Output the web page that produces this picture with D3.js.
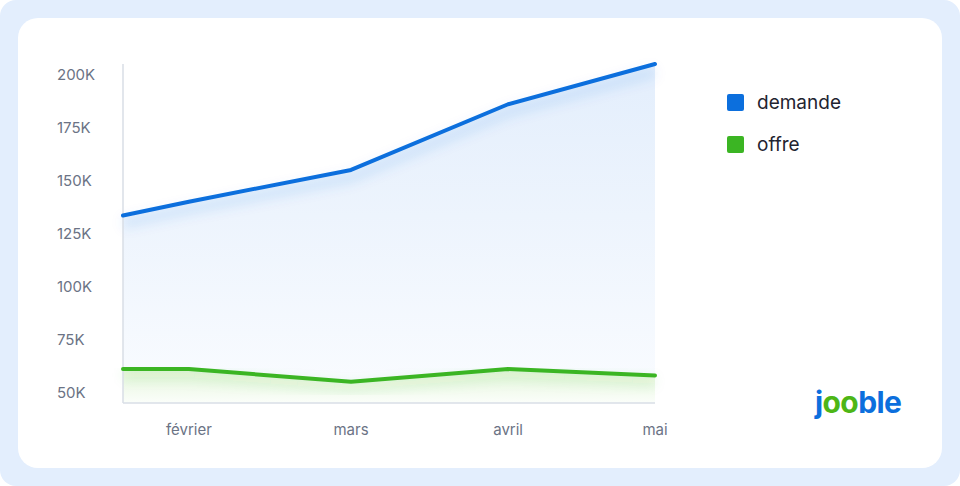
<!DOCTYPE html>
<html><head><meta charset="utf-8">
<script src="https://cdn.jsdelivr.net/npm/d3@7"></script>
<style>
html,body{margin:0;padding:0;background:#fff;}
svg{display:block;font-family:Inter,"Noto Sans",sans-serif;}
</style></head>
<body>
<svg id="c" width="960" height="486"></svg>
<script>
// ---- data ----
const dates = ["2024-01-19","2024-02-01","2024-03-04","2024-04-04","2024-05-03"];
const monthLabels = ["", "février", "mars", "avril", "mai"];
const demande = [133500, 140000, 155000, 186000, 205000];
const offre = [61000, 61000, 55000, 61000, 58000];
const yTicks = [50000, 75000, 100000, 125000, 150000, 175000, 200000];
const seriesNames = ["demande", "offre"];
const seriesColors = ["#0c6fdd", "#3bb523"];

const parse = d3.timeParse("%Y-%m-%d");
const xs = dates.map(parse);

const svg = d3.select("#c");
const defs = svg.append("defs");

// background + card
svg.append("rect").attr("x",0).attr("y",0).attr("width",960).attr("height",486).attr("rx",16).attr("fill","#e3eefd");
svg.append("rect").attr("x",18).attr("y",18).attr("width",924).attr("height",450).attr("rx",20).attr("fill","#ffffff");

const x = d3.scaleTime().domain([xs[0], xs[xs.length-1]]).range([123, 655]);
const y = d3.scaleLinear().domain([45000, 205000]).range([403, 64]);

// gradients
const gB = defs.append("linearGradient").attr("id","gB").attr("gradientUnits","userSpaceOnUse")
  .attr("x1",0).attr("x2",0).attr("y1",64).attr("y2",403);
gB.append("stop").attr("offset","0").attr("stop-color","#e3eefc");
gB.append("stop").attr("offset","0.45").attr("stop-color","#edf4fd");
gB.append("stop").attr("offset","1").attr("stop-color","#fafcff");
const gG = defs.append("linearGradient").attr("id","gG").attr("gradientUnits","userSpaceOnUse")
  .attr("x1",0).attr("x2",0).attr("y1",368).attr("y2",403);
gG.append("stop").attr("offset","0").attr("stop-color","#e4f5da");
gG.append("stop").attr("offset","1").attr("stop-color","#fbfefa");

const blur = defs.append("filter").attr("id","bl").attr("x","-10%").attr("y","-50%").attr("width","120%").attr("height","200%");
blur.append("feGaussianBlur").attr("stdDeviation",6);

const curve = d3.curveLinear;
const area = d3.area().x((d,i)=>x(xs[i])).y0(y(45000)).y1(d=>y(d)).curve(curve);
const line = d3.line().x((d,i)=>x(xs[i])).y(d=>y(d)).curve(curve);

// areas
svg.append("path").datum(demande).attr("d",area).attr("fill","url(#gB)");
svg.append("path").datum(demande).attr("d",line).attr("fill","none")
  .attr("stroke",seriesColors[0]).attr("stroke-opacity",0.12).attr("stroke-width",10)
  .attr("transform","translate(0,8)").attr("filter","url(#bl)");
svg.append("path").datum(offre).attr("d",area).attr("fill","url(#gG)");
svg.append("path").datum(offre).attr("d",line).attr("fill","none")
  .attr("stroke",seriesColors[1]).attr("stroke-opacity",0.12).attr("stroke-width",8)
  .attr("transform","translate(0,6)").attr("filter","url(#bl)");

// axes
const axisColor = "#d9dee6";
svg.append("line").attr("x1",123).attr("x2",123).attr("y1",y(205000)).attr("y2",y(45000))
  .attr("stroke",axisColor).attr("stroke-width",1.5);
svg.append("line").attr("x1",123).attr("x2",x(xs[xs.length-1])).attr("y1",y(45000)).attr("y2",y(45000))
  .attr("stroke",axisColor).attr("stroke-width",1.5);

// lines
svg.append("path").datum(demande).attr("d",line).attr("fill","none")
  .attr("stroke",seriesColors[0]).attr("stroke-width",4).attr("stroke-linecap","round").attr("stroke-linejoin","round");
svg.append("path").datum(offre).attr("d",line).attr("fill","none")
  .attr("stroke",seriesColors[1]).attr("stroke-width",4).attr("stroke-linecap","round").attr("stroke-linejoin","round");

// y labels
svg.append("g").selectAll("text").data(yTicks).join("text")
  .attr("x",57).attr("y",d=>y(d)).attr("dy","0.36em")
  .attr("font-size",15).attr("fill","#6b7385")
  .text(d=>d3.format("d")(d/1000)+"K");

// x labels
svg.append("g").selectAll("text").data(xs.slice(1)).join("text")
  .attr("x",d=>x(d)).attr("y",430).attr("dy","0.36em").attr("text-anchor","middle")
  .attr("font-size",15).attr("fill","#6b7385")
  .text((d,i)=>monthLabels[i+1]);

// legend
const lg = svg.append("g").selectAll("g").data(seriesNames).join("g")
  .attr("transform",(d,i)=>`translate(727,${94+i*42})`);
lg.append("rect").attr("width",17).attr("height",17).attr("rx",2).attr("fill",(d,i)=>seriesColors[i]);
lg.append("text").attr("x",30).attr("y",8.5).attr("dy","0.36em").attr("font-size",19)
  .attr("fill","#1f2430").text(d=>d);

// logo
const logo = svg.append("text").attr("x",815).attr("y",413).attr("font-size",30).attr("font-weight",700)
  .attr("letter-spacing",-0.6);
logo.append("tspan").attr("fill","#0c6fdd").text("j");
logo.append("tspan").attr("fill","#4db616").text("oo");
logo.append("tspan").attr("fill","#0c6fdd").text("ble");
</script>
</body></html>
